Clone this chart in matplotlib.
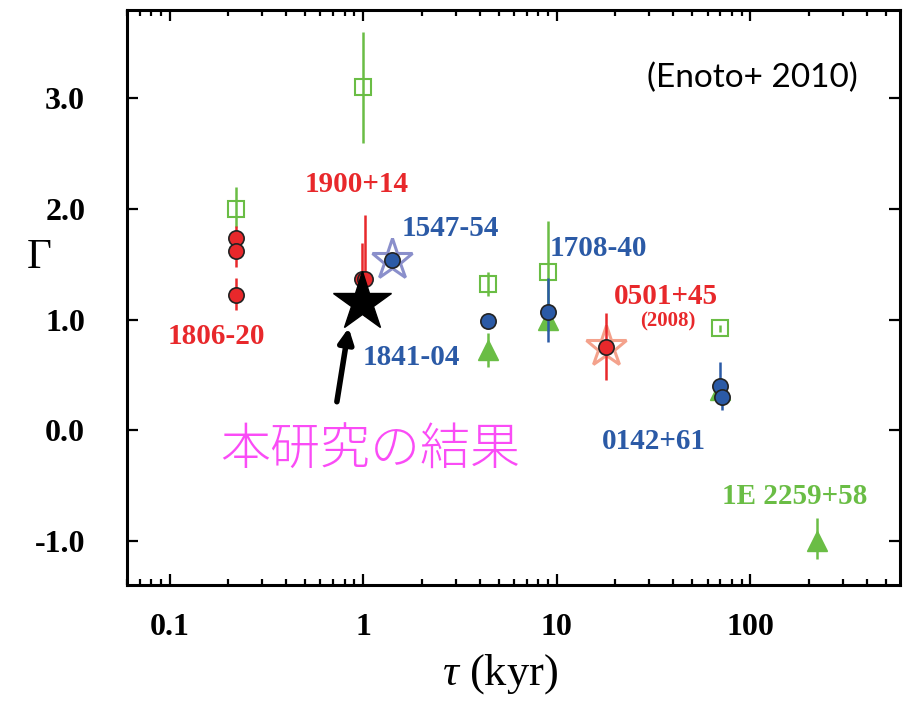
"""Photon index vs characteristic age of magnetars"""
import matplotlib
matplotlib.use("Agg")
from matplotlib import pyplot as plt
from matplotlib.ticker import FixedLocator, LogLocator, NullFormatter

plt.rcParams["font.family"] = ["Liberation Serif", "DejaVu Serif"]
plt.rcParams["mathtext.fontset"] = "custom"
plt.rcParams["mathtext.rm"] = "Liberation Serif"
plt.rcParams["mathtext.it"] = "Liberation Serif:italic"

RED = "#e8282b"
BLUE = "#2b5aa6"
GREEN = "#6abd45"
LAVENDER = "#8a8fcb"
SALMON = "#f4a28c"
MAGENTA = "#fa4cf6"

# red circles (1806-20 x3, 1900+14 x2, 0501+45)
red_tau = [0.22, 0.22, 0.22, 0.985, 1.02, 18.0]
red_gamma = [1.74, 1.62, 1.22, 1.37, 1.37, 0.75]
red_lo = [0.0, 0.14, 0.13, 0.30, 0.34, 0.30]
red_hi = [0.11, 0.0, 0.16, 0.32, 0.58, 0.31]

# blue circles (1547-54, 1841-04, 1708-40, 0142+61 x2)
blue_tau = [1.4, 4.4, 9.0, 70.0, 71.0]
blue_gamma = [1.54, 0.99, 1.07, 0.40, 0.30]
blue_lo = [0.0, 0.0, 0.27, 0.0, 0.12]
blue_hi = [0.0, 0.0, 0.31, 0.22, 0.0]

# green open squares
sq_tau = [0.22, 1.0, 4.4, 9.0, 70.0]
sq_gamma = [2.0, 3.1, 1.32, 1.43, 0.92]
sq_lo = [0.16, 0.5, 0.11, 0.45, 0.03]
sq_hi = [0.2, 0.5, 0.11, 0.46, 0.03]

# green triangles
tri_tau = [4.4, 9.0, 70.0, 220.0]
tri_gamma = [0.73, 1.0, 0.36, -1.0]
tri_lo = [0.16, 0.1, 0.1, 0.16]
tri_hi = [0.15, 0.1, 0.1, 0.21]

# open stars: 1547-54 (lavender), 0501+45 (salmon)
star_tau = [1.4, 18.0]
star_gamma = [1.54, 0.75]
star_colors = [LAVENDER, SALMON]

# this work
this_tau = 0.98
this_gamma = 1.16

labels = ["1806-20", "1900+14", "1547-54", "1841-04", "1708-40",
          "0501+45", "0142+61", "1E 2259+58"]
label_tau = [0.175, 0.925, 2.83, 1.78, 16.3, 36.6, 31.7, 170.0]
label_gamma = [0.845, 2.22, 1.82, 0.655, 1.64, 1.21, -0.10, -0.60]
label_colors = [RED, RED, BLUE, BLUE, BLUE, RED, BLUE, GREEN]

x_ticks = [0.1, 1, 10, 100]
x_ticklabels = ["0.1", "1", "10", "100"]
y_ticks = [-1.0, 0.0, 1.0, 2.0, 3.0]
y_ticklabels = ["-1.0", "0.0", "1.0", "2.0", "3.0"]

fig = plt.figure(figsize=(9.06, 7.05), dpi=100)
ax = fig.add_axes([0.140, 0.170, 0.853, 0.816])
ax.set_xscale("log")
ax.set_xlim(0.06, 590)
ax.set_ylim(-1.4, 3.8)

# error bars first, markers on top
ax.errorbar(sq_tau, sq_gamma, yerr=[sq_lo, sq_hi], fmt="none",
            ecolor=GREEN, elinewidth=1.8, capsize=0, zorder=2)
ax.plot(sq_tau, sq_gamma, "s", ms=12, mfc="none", mec=GREEN, mew=1.5, zorder=2.5)
ax.errorbar(tri_tau, tri_gamma, yerr=[tri_lo, tri_hi], fmt="none",
            ecolor=GREEN, elinewidth=1.8, capsize=0, zorder=3)
ax.plot(tri_tau, tri_gamma, "^", ms=15, color=GREEN, zorder=3.5)

for t, g, c in zip(star_tau, star_gamma, star_colors):
    ax.plot(t, g, "*", ms=31, mfc="none", mec=c, mew=2.2, zorder=3.8)

ax.errorbar(blue_tau, blue_gamma, yerr=[blue_lo, blue_hi], fmt="none",
            ecolor=BLUE, elinewidth=1.8, capsize=0, zorder=4)
ax.plot(blue_tau, blue_gamma, "o", ms=11, mfc=BLUE, mec="#222222", mew=1.2, zorder=5)
ax.errorbar(red_tau, red_gamma, yerr=[red_lo, red_hi], fmt="none",
            ecolor=RED, elinewidth=1.8, capsize=0, zorder=4)
ax.plot(red_tau, red_gamma, "o", ms=11, mfc=RED, mec="#222222", mew=1.2, zorder=5)

ax.plot(this_tau, this_gamma, "*", ms=44, color="black", zorder=10)

for text, t, g, c in zip(labels, label_tau, label_gamma, label_colors):
    ax.text(t, g, text, color=c, fontsize=21, fontweight="bold",
            ha="center", va="center")
ax.text(37.5, 0.98, "(2008)", color=RED, fontsize=15, fontweight="bold",
        ha="center", va="center")

ax.text(0.81, 0.882, "(Enoto+ 2010)", transform=ax.transAxes, fontsize=24,
        family=["Lato", "DejaVu Sans"], ha="center", va="center")

ax.text(1.09, -0.19, "本研究の結果", color=MAGENTA, fontsize=36,
        family=["Noto Sans CJK JP", "DejaVu Sans"], fontweight="light",
        ha="center", va="center")
ax.annotate("", xy=(0.84, 0.926), xytext=(0.73, 0.258),
            arrowprops=dict(arrowstyle="-|>", lw=4, color="black",
                            mutation_scale=22, shrinkA=0, shrinkB=0))

# axes styling
ax.xaxis.set_major_locator(FixedLocator(x_ticks))
ax.set_xticklabels(x_ticklabels)
ax.xaxis.set_minor_locator(LogLocator(base=10, subs=range(2, 10)))
ax.xaxis.set_minor_formatter(NullFormatter())
ax.set_yticks(y_ticks)
ax.set_yticklabels(y_ticklabels)
ax.tick_params(which="both", direction="in", top=True, right=True, width=1.6)
ax.tick_params(which="major", length=8)
ax.tick_params(which="minor", length=4)
ax.tick_params(axis="x", which="major", pad=20, labelsize=23)
ax.tick_params(axis="y", which="major", pad=30, labelsize=23)
for label in ax.get_xticklabels() + ax.get_yticklabels():
    label.set_fontweight("bold")
for spine in ax.spines.values():
    spine.set_linewidth(2.2)

ax.set_xlabel(r"$\tau$ (kyr)", fontsize=32)
ax.xaxis.set_label_coords(0.483, -0.117)
ax.set_ylabel("Γ", fontsize=31, rotation=0, va="center", ha="center")
ax.yaxis.set_label_coords(-0.114, 0.569)

plt.savefig("out.png", dpi=100)
